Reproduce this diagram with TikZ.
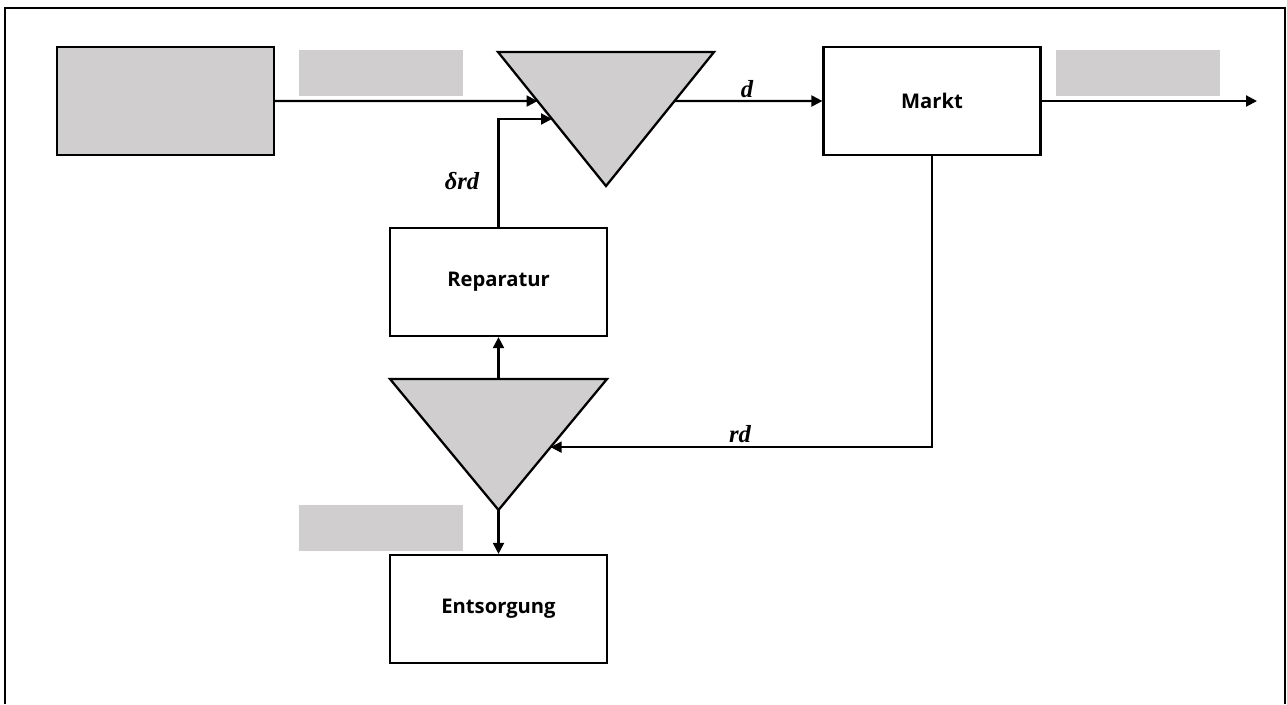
\documentclass[tikz,border=0pt]{standalone}
\usepackage{amsmath}
\usepackage{fontspec}
\setsansfont{Open Sans}
\newfontfamily\symfont{Liberation Serif}
\usepackage{tikz}
\usepackage{xcolor}
\usetikzlibrary{calc,arrows.meta}

\definecolor{boxgray}{RGB}{208,206,207}

\begin{document}
\begin{tikzpicture}[x=0.02cm, y=-0.02cm,
        block/.style={draw, line width=1.3pt, fill=white, minimum width=4.34cm, minimum height=2.16cm, inner sep=0pt, font=\sffamily\bfseries\fontsize{11.5}{14}\selectfont},
        tag/.style={fill=boxgray, minimum width=3.28cm, minimum height=0.92cm, inner sep=0pt},
        tri/.style={draw, fill=boxgray, line width=1.3pt, line join=miter},
        flow/.style={line width=1.2pt, -{Triangle[length=2.2mm, width=2.2mm]}},
        lbl/.style={font=\symfont\bfseries\itshape\fontsize{14}{16}\selectfont, inner sep=0pt}]
            \useasboundingbox (0,0) rectangle (1287,704);
            \draw[line width=1.1pt] (5,704) -- (5,8) -- (1285,8) -- (1285,704);

            \node[block, fill=boxgray] (src) at (165.5,101) {};
            \node[block]  (markt) at (932,101) {Markt};
            \node[block]  (rep)   at (498.5,282) {Reparatur};
            \node[block]  (ent)   at (498.5,609) {Entsorgung};

            \node[tag] (tagA) at (381,73) {};
            \node[tag] (tagB) at (1138,73) {};
            \node[tag] (tagC) at (381,528) {};

            \coordinate (t1l) at (498,52);
            \coordinate (t1r) at (714,52);
            \coordinate (t1a) at (606,186);
            \coordinate (t2l) at (390,379);
            \coordinate (t2r) at (607,379);
            \coordinate (t2a) at (498.5,510);
            \draw[tri] (t1l) -- (t1r) -- (t1a) -- cycle;
            \draw[tri] (t2l) -- (t2r) -- (t2a) -- cycle;

            \coordinate (t1in)  at ($(t1l)!0.366!(t1a)$);
            \coordinate (t1fb)  at ($(t1l)!0.5!(t1a)$);
            \coordinate (t1out) at ($(t1r)!0.366!(t1a)$);
            \coordinate (t2in)  at ($(t2r)!0.52!(t2a)$);
            \coordinate (t2top) at ($(t2l)!0.5!(t2r)$);
            \coordinate (exit)  at (1257,101);

            \draw[flow] (src.east) -- (t1in);
            \draw[flow] (rep.north) |- (t1fb);
            \draw[flow] (t1out) -- (markt.west);
            \draw[flow] (markt.east) -- (exit);
            \draw[flow] (markt.south) |- (t2in);
            \draw[flow] (t2top) -- (rep.south);
            \draw[flow] (t2a) -- (ent.north);

            \node[lbl] (dlab)   at (747,89)  {d};
            \node[lbl] (rdlab)  at (740,434) {rd};
            \node[lbl] (drdlab) at (462,181) {δrd};
        \end{tikzpicture}
\end{document}
